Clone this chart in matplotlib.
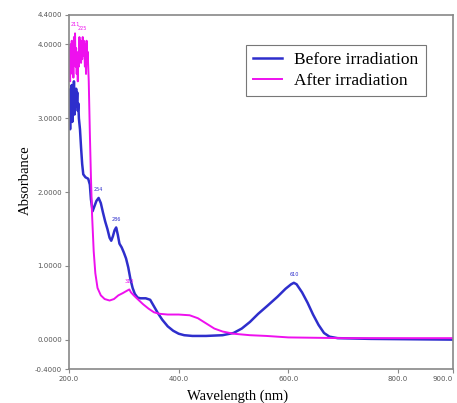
import numpy as np
import matplotlib.pyplot as plt

# wavelength (nm) / absorbance
wl_before = [200, 201, 202, 203, 204, 205, 206, 207, 208, 209, 210, 211, 212, 213, 214,
             215, 216, 217, 218, 220, 222, 224, 226, 230, 235, 238, 240, 243, 246, 250,
             254, 258, 262, 266, 270, 274, 277, 280, 283, 286, 289, 292, 296, 300, 304,
             308, 312, 316, 320, 325, 330, 340, 348, 355, 362, 370, 380, 390, 400, 410,
             425, 450, 480, 500, 515, 530, 545, 562, 580, 595, 605, 610, 615, 625, 635,
             645, 655, 665, 675, 690, 750, 900]
abs_before = [2.90, 3.30, 2.85, 3.40, 3.00, 3.45, 2.95, 3.35, 3.10, 3.50, 3.05, 3.30, 3.15, 3.40, 3.20,
              3.35, 3.10, 3.20, 3.00, 2.85, 2.60, 2.38, 2.24, 2.20, 2.18, 2.10, 1.90, 1.74, 1.80, 1.88,
              1.92, 1.85, 1.72, 1.60, 1.50, 1.38, 1.34, 1.40, 1.48, 1.52, 1.42, 1.30, 1.25, 1.18, 1.10,
              0.98, 0.82, 0.70, 0.62, 0.57, 0.56, 0.56, 0.54, 0.45, 0.36, 0.27, 0.18, 0.12, 0.08, 0.06,
              0.05, 0.05, 0.06, 0.09, 0.15, 0.24, 0.35, 0.46, 0.58, 0.69, 0.75, 0.77, 0.75, 0.64, 0.50,
              0.34, 0.20, 0.09, 0.04, 0.02, 0.01, 0.00]

wl_after = [200, 201, 202, 203, 204, 205, 206, 207, 208, 209, 210, 211, 212, 213, 214,
            215, 216, 217, 218, 219, 220, 221, 222, 223, 224, 225, 226, 227, 228, 229,
            230, 231, 232, 233, 234, 236, 238, 240, 242, 245, 248, 252, 258, 265, 274,
            282, 290, 298, 305, 310, 313, 318, 325, 335, 345, 355, 365, 380, 400, 420,
            435, 450, 465, 480, 500, 530, 560, 600, 700, 900]
abs_after = [3.60, 3.95, 3.50, 4.00, 3.70, 4.05, 3.60, 3.90, 3.55, 4.10, 3.80, 4.15, 3.70, 3.95, 3.60,
             3.85, 3.50, 3.90, 3.70, 4.10, 3.85, 4.05, 3.75, 3.95, 3.80, 4.10, 3.85, 4.05, 3.90, 3.70,
             4.00, 3.60, 4.05, 3.75, 3.90, 3.50, 2.80, 2.20, 1.70, 1.20, 0.90, 0.70, 0.60, 0.55, 0.53,
             0.55, 0.60, 0.63, 0.66, 0.68, 0.64, 0.60, 0.55, 0.48, 0.42, 0.37, 0.35, 0.34, 0.34, 0.33,
             0.29, 0.22, 0.15, 0.11, 0.08, 0.06, 0.05, 0.03, 0.02, 0.02]

# peak annotations (wavelength, absorbance, text, series)
peaks = [(254, 1.92, '254', 'b'), (286, 1.52, '286', 'b'), (610, 0.77, '610', 'b'),
         (211, 4.15, '211', 'm'), (225, 4.10, '225', 'm'), (310, 0.68, '310', 'm')]

x_ticks = [200, 400, 600, 800, 900]
x_labels = ['200.0', '400.0', '600.0', '800.0', '900.0']
y_ticks = [-0.4, 0, 1, 2, 3, 4, 4.4]
y_labels = ['-0.4000', '0.0000', '1.0000', '2.0000', '3.0000', '4.0000', '4.4000']

blue = '#2e2ecc'
mag = '#ee10ee'
grey = '#888888'

fig = plt.figure(figsize=(4.57, 4.03), dpi=100)
ax = fig.add_axes([0.151, 0.084, 0.84, 0.879])

ax.plot(wl_before, abs_before, color=blue, lw=1.8, label='Before irradiation')
ax.plot(wl_after, abs_after, color=mag, lw=1.4, label='After irradiation')

for x, y, t, s in peaks:
    c = blue if s == 'b' else mag
    ax.annotate(t, (x, y), xytext=(0, 5), textcoords='offset points', ha='center',
                fontsize=3.5, color=c)

ax.set_xlim(200, 900)
ax.set_ylim(-0.4, 4.4)
ax.set_xticks(x_ticks)
ax.set_xticklabels(x_labels)
ax.set_yticks(y_ticks)
ax.set_yticklabels(y_labels)
ax.tick_params(labelsize=5, colors=grey, labelcolor='#555555', length=3, width=0.8, pad=2)
ax.get_xticklabels()[-1].set_ha('right')

for sp in ax.spines.values():
    sp.set_color(grey)
    sp.set_linewidth(1.2)

ax.set_xlabel('Wavelength (nm)', family='Liberation Serif', fontsize=10.5)
ax.xaxis.set_label_coords(0.44, -0.057)
ax.set_ylabel('Absorbance', family='Liberation Serif', fontsize=10.5)
ax.yaxis.set_label_coords(-0.096, 0.534)

leg = ax.legend(loc='upper right', bbox_to_anchor=(0.929, 0.915),
                prop={'family': 'Liberation Serif', 'size': 12.5},
                frameon=True, fancybox=False, edgecolor='#555555',
                handlelength=1.7, handletextpad=0.7, borderpad=0.4,
                labelspacing=0.25, borderaxespad=0)
leg.get_frame().set_linewidth(0.8)

fig.savefig('out.png', dpi=100)
